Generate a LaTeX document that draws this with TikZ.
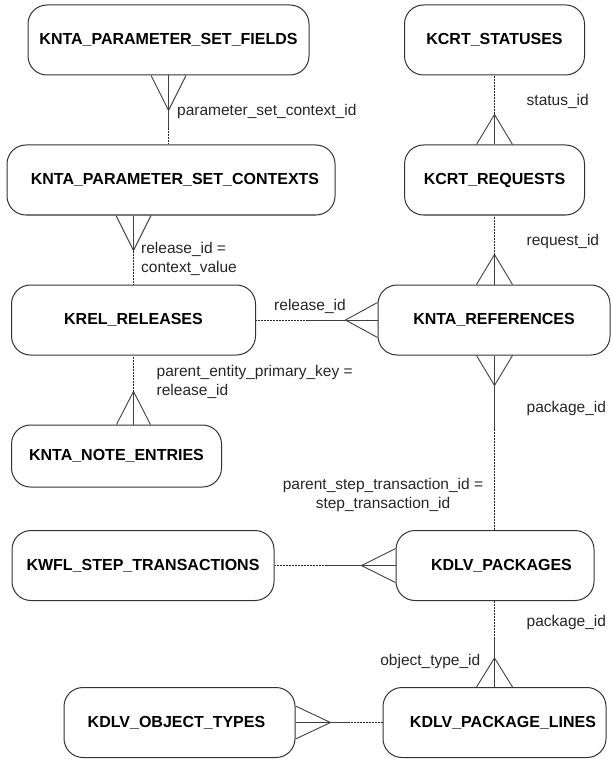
\documentclass[tikz,border=0pt]{standalone}
\usepackage{fontspec}
\setmainfont{Liberation Sans}
\usetikzlibrary{calc}
\begin{document}
\begin{tikzpicture}[x=1pt,y=-1pt,
  ent/.style={draw=black!80, line width=1pt, rounded corners=19pt, inner sep=0pt,
    font=\fontsize{16}{19}\selectfont\bfseries, minimum height=70pt},
  rel/.style={draw=black!75, line width=0.9pt},
  reldash/.style={draw=black!85, line width=1pt, dash pattern=on 2pt off 1pt},
  lbl/.style={font=\fontsize{15.5}{19.5}\selectfont, text=black!85, inner sep=0pt, align=left}]
\useasboundingbox (0,0) rectangle (611,759);

% entities
\node[ent, minimum width=281pt] (psf) at (168.5,40) {KNTA\_PARAMETER\_SET\_FIELDS};
\node[ent, minimum width=180pt] (cstat) at (494.5,40) {KCRT\_STATUSES};
\node[ent, minimum width=328pt] (psc) at (171,180) {\hspace*{8pt}KNTA\_PARAMETER\_SET\_CONTEXTS};
\node[ent, minimum width=180pt] (creq) at (494.5,180) {KCRT\_REQUESTS};
\node[ent, minimum width=244pt] (krel) at (133.5,320) {KREL\_RELEASES};
\node[ent, minimum width=232pt] (kref) at (494,320) {KNTA\_REFERENCES};
\node[ent, minimum width=210pt, minimum height=62pt] (note) at (116.5,456) {KNTA\_NOTE\_ENTRIES};
\node[ent, minimum width=262pt] (kwfl) at (143,565.5) {KWFL\_STEP\_TRANSACTIONS};
\node[ent, minimum width=198pt] (kpkg) at (495,565.5) {\hspace*{13pt}KDLV\_PACKAGES};
\node[ent, minimum width=231pt] (kot) at (179.5,722.5) {KDLV\_OBJECT\_TYPES\hspace*{6pt}};
\node[ent, minimum width=223pt] (kpl) at (494.5,722.5) {\hspace*{17pt}KDLV\_PACKAGE\_LINES};

% 1: psf (many) - psc (one)
\coordinate (m1) at (psf.south);
\coordinate (t1) at ($(m1)+(0,35)$);
\coordinate (o1) at (m1 |- psc.north);
\coordinate (h1) at ($(m1)!53pt!(o1)$);
\draw[rel] ($(m1)+(-17.5,0)$) -- (t1) -- ($(m1)+(17.5,0)$);
\draw[rel] (m1) -- (h1);
\draw[reldash] (h1) -- (o1);

% 2: cstat (one) - creq (many)
\coordinate (m2) at (creq.north);
\coordinate (t2) at ($(m2)+(0,-30)$);
\coordinate (o2) at (cstat.south);
\coordinate (h2) at ($(m2)!30pt!(o2)$);
\draw[rel] ($(m2)+(-18,0)$) -- (t2) -- ($(m2)+(18,0)$);
\draw[rel] (m2) -- (h2);
\draw[reldash] (h2) -- (o2);

% 3: creq (one) - kref (many)
\coordinate (m3) at (cstat.south |- kref.north);
\coordinate (t3) at ($(m3)+(0,-30)$);
\coordinate (o3) at (creq.south);
\coordinate (h3) at ($(m3)!30pt!(o3)$);
\draw[rel] ($(m3)+(-18,0)$) -- (t3) -- ($(m3)+(18,0)$);
\draw[rel] (m3) -- (h3);
\draw[reldash] (h3) -- (o3);

% 4: psc (many) - krel (one)
\coordinate (m4) at (krel.north |- psc.south);
\coordinate (t4) at ($(m4)+(0,35)$);
\coordinate (o4) at (krel.north);
\coordinate (h4) at ($(m4)!35pt!(o4)$);
\draw[rel] ($(m4)+(-17.5,0)$) -- (t4) -- ($(m4)+(17.5,0)$);
\draw[rel] (m4) -- (h4);
\draw[reldash] (h4) -- (o4);

% 5: krel (one) - note (many)
\coordinate (m5) at (krel.south |- note.north);
\coordinate (t5) at ($(m5)+(0,-33)$);
\coordinate (o5) at (krel.south);
\coordinate (h5) at ($(m5)!33pt!(o5)$);
\draw[rel] ($(m5)+(-17,0)$) -- (t5) -- ($(m5)+(17,0)$);
\draw[rel] (m5) -- (h5);
\draw[reldash] (h5) -- (o5);

% 6: krel (one) - kref (many)
\coordinate (m6) at (kref.west);
\coordinate (t6) at ($(m6)+(-32,0)$);
\coordinate (o6) at (krel.east);
\coordinate (h6) at ($(m6)!70pt!(o6)$);
\draw[rel] ($(m6)+(0,-17.5)$) -- (t6) -- ($(m6)+(0,17.5)$);
\draw[rel] (m6) -- (h6);
\draw[reldash] (h6) -- (o6);

% 7: kref (many) - kpkg (one)
\coordinate (m7) at (cstat.south |- kref.south);
\coordinate (t7) at ($(m7)+(0,30)$);
\coordinate (o7) at (m7 |- kpkg.north);
\coordinate (h7) at ($(m7)!73pt!(o7)$);
\draw[rel] ($(m7)+(-18,0)$) -- (t7) -- ($(m7)+(18,0)$);
\draw[rel] (m7) -- (h7);
\draw[reldash] (h7) -- (o7);

% 8: kwfl (one) - kpkg (many)
\coordinate (m8) at (kpkg.west);
\coordinate (t8) at ($(m8)+(-34,0)$);
\coordinate (o8) at (kwfl.east);
\coordinate (h8) at ($(m8)!69pt!(o8)$);
\draw[rel] ($(m8)+(0,-17)$) -- (t8) -- ($(m8)+(0,17)$);
\draw[rel] (m8) -- (h8);
\draw[reldash] (h8) -- (o8);

% 9: kpkg (one) - kpl (many)
\coordinate (m9) at (cstat.south |- kpl.north);
\coordinate (t9) at ($(m9)+(0,-29)$);
\coordinate (o9) at (cstat.south |- kpkg.south);
\coordinate (h9) at ($(m9)!48pt!(o9)$);
\draw[rel] ($(m9)+(-18,0)$) -- (t9) -- ($(m9)+(18,0)$);
\draw[rel] (m9) -- (h9);
\draw[reldash] (h9) -- (o9);

% 10: kot (many) - kpl (one)
\coordinate (m10) at (kot.east);
\coordinate (t10) at ($(m10)+(35,0)$);
\coordinate (o10) at (kpl.west);
\coordinate (h10) at ($(m10)!52pt!(o10)$);
\draw[rel] ($(m10)+(0,-16.5)$) -- (t10) -- ($(m10)+(0,16.5)$);
\draw[rel] (m10) -- (h10);
\draw[reldash] (h10) -- (o10);

% labels
\node[lbl, anchor=west] (l1) at (177,111) {parameter\_set\_context\_id};
\node[lbl, anchor=west] (l2) at (526.5,101.5) {status\_id};
\node[lbl, anchor=west] (l3) at (141,259) {release\_id =\\context\_value};
\node[lbl, anchor=west] (l4) at (526.5,241.5) {request\_id};
\node[lbl] (l5) at (310,306.5) {release\_id};
\node[lbl, anchor=west] (l6) at (156.5,382) {parent\_entity\_primary\_key =\\release\_id};
\node[lbl, anchor=west] (l7) at (526.5,408) {package\_id};
\node[lbl, align=center, font=\fontsize{15.5}{18.5}\selectfont] (l8) at (383,495) {parent\_step\_transaction\_id =\\step\_transaction\_id};
\node[lbl, anchor=west] (l9) at (526.5,622.5) {package\_id};
\node[lbl, anchor=east] (l10) at (480.5,661.5) {object\_type\_id};
\end{tikzpicture}
\end{document}
